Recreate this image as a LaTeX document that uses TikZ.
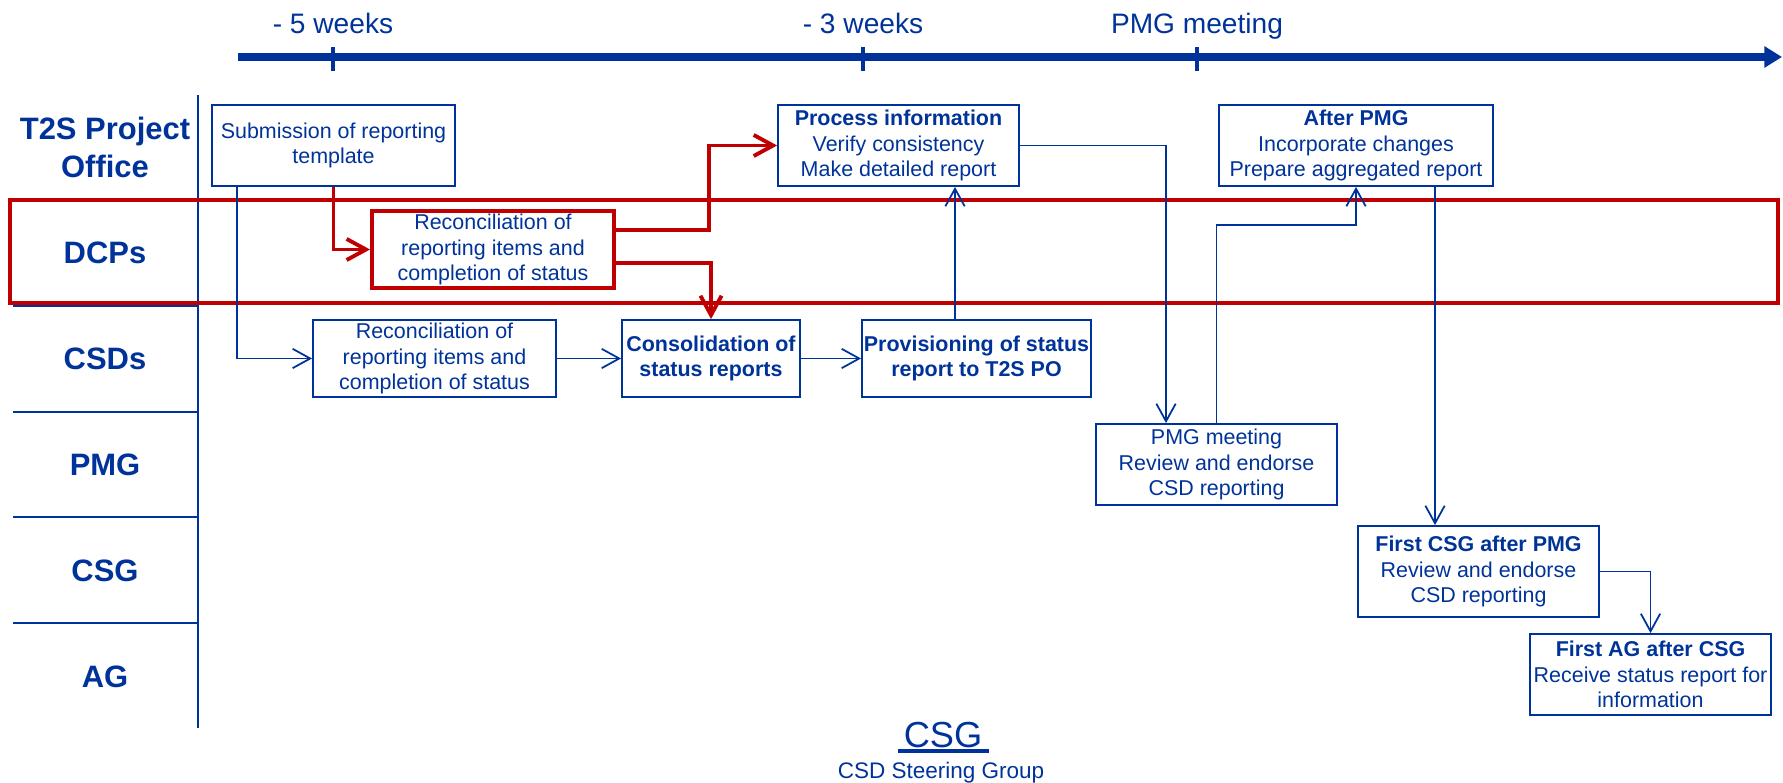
\documentclass[tikz,border=0pt]{standalone}
\usepackage{fontspec}
\setmainfont{Liberation Sans}
\usetikzlibrary{arrows.meta,calc}
\definecolor{ecbblue}{RGB}{0,51,153}
\definecolor{ecbred}{RGB}{192,0,0}
\newcommand{\boxfont}{\fontsize{6.1}{7.3}\selectfont}
\begin{document}
\begin{tikzpicture}[x=0.01cm,y=-0.01cm,
  box/.style={draw=ecbblue,line width=0.5pt,text=ecbblue,align=center,
    inner sep=0pt,minimum width=2.41cm,minimum height=0.81cm,font=\boxfont},
  redbox/.style={box,draw=ecbred,line width=1.1pt},
  lane/.style={text=ecbblue,font=\fontsize{8.8}{10.8}\selectfont\bfseries,anchor=base,align=center},
  flow/.style={draw=ecbblue,line width=0.5pt,-{Straight Barb[length=5pt,width=5.5pt]}},
  redflow/.style={draw=ecbred,line width=1.1pt,-{Straight Barb[length=5.5pt,width=6pt]}},
  tick/.style={text=ecbblue,font=\fontsize{8}{9.6}\selectfont,anchor=base}]
\useasboundingbox (0,0) rectangle (1783,783);

% time axis
\draw[ecbblue,line width=2pt,-{Triangle[length=5pt,width=5.8pt]}] (238,57) -- (1782,57);
\foreach \tx/\tl [count=\i] in {333/- 5 weeks,863/- 3 weeks,1197/PMG meeting}{
  \draw[ecbblue,line width=1.2pt] (\tx,47) -- (\tx,71);
  \node[tick] (t\i) at (\tx,34) {\tl};
}

% swim lanes
\draw[ecbblue,line width=0.8pt] (198,95) -- (198,728);
\foreach \ly in {306,412,517,623}
  \draw[ecbblue,line width=0.8pt] (13,\ly) -- (198,\ly);
\node[lane,anchor=center] (po) at (105,147) {T2S Project\\Office};
\node[lane] (dcp) at (105,264) {DCPs};
\node[lane] (csd) at (105,370) {CSDs};
\node[lane] (pmgl) at (105,476) {PMG};
\node[lane] (csgl) at (105,582) {CSG};
\node[lane] (agl) at (105,687) {AG};
\draw[ecbred,line width=1.1pt] (10,200) rectangle (1778,303);

% process steps
\node[box,minimum width=2.43cm] (sub) at (333.5,145.5) {Submission of reporting\\template};
\node[box] (info) at (898.5,145.5) {\textbf{Process information}\\Verify consistency\\Make detailed report};
\node[box,minimum width=2.74cm] (after) at (1356,145.5) {\textbf{After PMG}\\Incorporate changes\\Prepare aggregated report};
\node[redbox,minimum width=2.42cm,minimum height=0.77cm] (dcprec) at (493,249.5) {Reconciliation of\\reporting items and\\completion of status};
\node[box,minimum width=2.43cm,minimum height=0.77cm] (csdrec) at (434.5,358.5) {Reconciliation of\\reporting items and\\completion of status};
\node[box,minimum width=1.78cm,minimum height=0.77cm] (cons) at (711,358.5) {\textbf{Consolidation of}\\\textbf{status reports}};
\node[box,minimum width=2.29cm,minimum height=0.77cm] (prov) at (976.5,358.5) {\textbf{Provisioning of status}\\\textbf{report to T2S PO}};
\node[box] (pmg) at (1216.5,464.5) {PMG meeting\\Review and endorse\\CSD reporting};
\node[box,minimum height=0.91cm] (csg) at (1478.5,571.5) {\textbf{First CSG after PMG}\\Review and endorse\\CSD reporting};
\node[box] (ag) at (1650.5,674.5) {\textbf{First AG after CSG}\\Receive status report for\\information};

% connectors
\draw[flow] ($(sub.south west)+(26,0)$) |- (csdrec.west);
\draw[redflow] (sub.south) |- (dcprec.west);
\draw[redflow] ($(dcprec.east)+(0,-19.5)$) -| ($(info.west)+(-68,0)$) -- (info.west);
\draw[redflow] ($(dcprec.east)+(0,13.5)$) -| (cons.north);
\draw[flow] (csdrec.east) -- (cons.west);
\draw[flow] (cons.east) -- (prov.west);
\draw[flow] ($(prov.north)+(-21.5,0)$) coordinate (pup) -- (pup |- info.south);
\draw[flow] (info.east) -| ($(pmg.north)+(-50.5,0)$);
\draw[flow] (pmg.north) |- ($(after.south)+(0,38)$) -- (after.south);
\draw[flow] ($(after.south)+(79,0)$) coordinate (adown) -- (adown |- csg.north);
\draw[flow] (csg.east) -| (ag.north);

% footer
\node[text=ecbblue,font=\fontsize{10.3}{12}\selectfont,anchor=base,inner sep=0pt] (csgt) at (943,747) {CSG};
\draw[ecbblue,line width=1pt] ($(csgt.base west)+(-5,4)$) -- ($(csgt.base east)+(6,4)$);
\node[text=ecbblue,font=\fontsize{6.4}{7.7}\selectfont,anchor=base,inner sep=0pt] (csgsub) at (941,778) {CSD Steering Group};
\end{tikzpicture}
\end{document}
